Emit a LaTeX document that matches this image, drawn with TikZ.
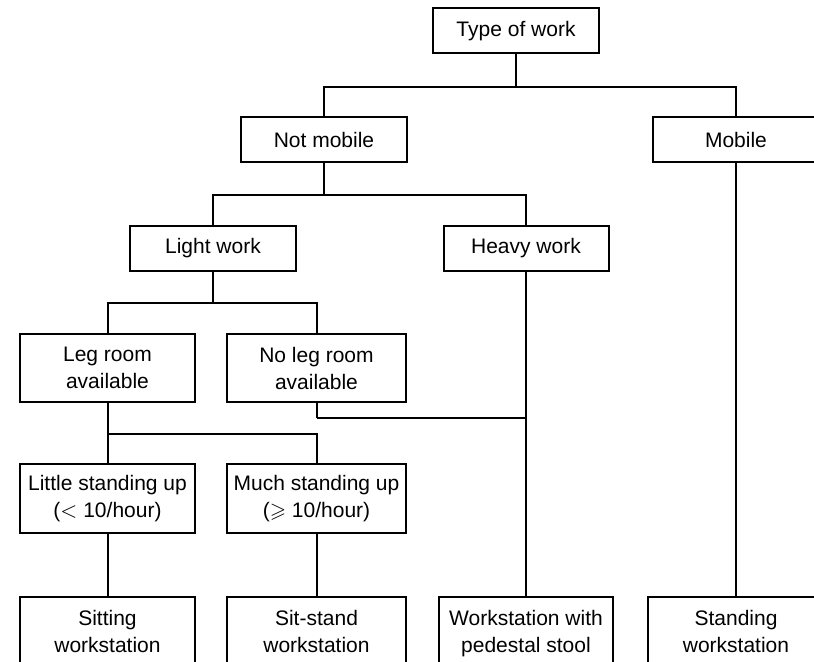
\documentclass[tikz,border=0pt]{standalone}
\usepackage{amssymb}
\usepackage{fontspec}
\setmainfont{Liberation Sans}
\tikzset{
  box/.style={draw, line width=1pt, minimum width=83pt, minimum height=22.5pt,
    inner sep=0pt, align=center, font=\fontsize{10.5}{13.5}\selectfont},
  tallbox/.style={box, minimum height=34pt},
  link/.style={line width=1pt}
}
\begin{document}
\begin{tikzpicture}[x=0.5pt,y=-0.5pt]
   \useasboundingbox (0,0) rectangle (814,662);

   \node[box] (type) at (516,31) {Type of work};
   \node[box] (notmob) at (324,139.5) {Not mobile};
   \node[box] (mobile) at (736,140) {Mobile};
   \node[box] (light) at (213,248.5) {Light work};
   \node[box,minimum width=82.5pt] (heavy) at (526,248.5) {Heavy work};

   \node[tallbox,minimum width=87.5pt] (leg) at (107.5,368) {Leg room\\available};
   \node[tallbox,minimum width=89.5pt] (noleg) at (316.5,368) {No leg room\\available};
   \node[tallbox,minimum width=87.5pt] (little) at (107.5,498.5) {Little standing up\\($<$ 10/hour)};
   \node[tallbox,minimum width=89.5pt] (much) at (316.5,498.5) {Much standing up\\($\geqslant$ 10/hour)};

   \node[tallbox,minimum width=87.5pt] (sitting) at (107.5,631) {Sitting\\workstation};
   \node[tallbox,minimum width=89.5pt] (sitstand) at (316.5,631) {Sit-stand\\workstation};
   \node[tallbox,minimum width=87pt] (pedestal) at (526,631) {Workstation with\\\smash{pedestal stool}};
   \node[tallbox,minimum width=88pt] (standing) at (736,631) {Standing\\workstation};

   \draw[link] (type.south) -- ++(0,33) coordinate (t1);
   \draw[link] (notmob.north) |- (t1) -| (mobile.north);
   \draw[link] (notmob.south) -- ++(0,32) coordinate (t2);
   \draw[link] (light.north) |- (t2) -| (heavy.north);
   \draw[link] (light.south) -- ++(0,31) coordinate (t3);
   \draw[link] (leg.north) |- (t3) -| (noleg.north);
   \draw[link] (noleg.south) -- ++(0,15) coordinate (t4);
   \draw[link] (t4) -- (t4 -| heavy.south);
   \draw[link] (leg.south) -- ++(0,31) coordinate (t5);
   \draw[link] (little.north) |- (t5) -| (much.north);

   \draw[link] (little.south) -- (sitting.north);
   \draw[link] (much.south) -- (sitstand.north);
   \draw[link] (heavy.south) -- (pedestal.north);
   \draw[link] (mobile.south) -- (standing.north);
 \end{tikzpicture}
\end{document}
